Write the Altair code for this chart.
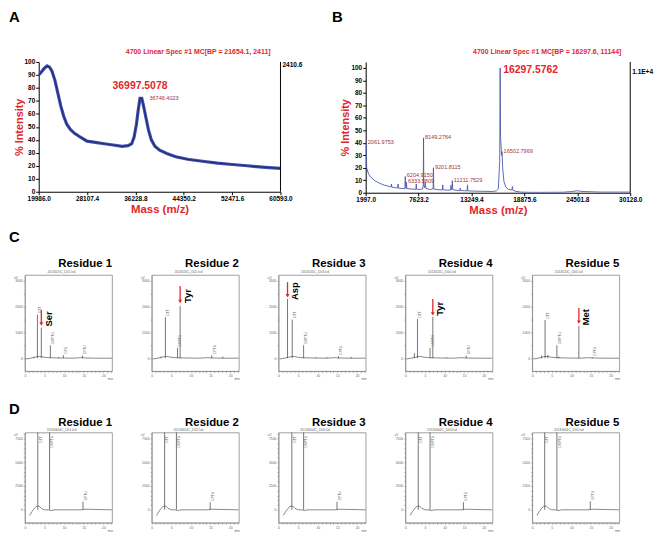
import altair as alt
import pandas as pd

FONT = "Liberation Sans"
RED = "#e1272c"
PEAKRED = "#a33434"
NAVY = "#1f2d80"
HALO = "#4452a6"
SPEC = "#4e5aa8"
TRACE = "#3a3a3a"
LGREY = "#666666"

# ---------------- Panel A : linear MALDI spectrum ----------------
A_TITLE = ["4700 Linear Spec #1 MC[BP = 21654.1, 2411]"]
A_mass = [19986, 20400, 20900, 21400, 21800, 22200, 22700, 23200, 23700, 24200,
          24700, 25300, 26000, 27000, 28100, 29500, 31000, 32500, 34000, 35000,
          35600, 36000, 36400, 36700, 37000, 37300, 37600, 38000, 38400, 38900,
          39500, 40300, 41500, 43000, 45000, 47500, 50000, 52500, 55000, 57500, 60593]
A_int = [90, 92, 95, 97, 96, 93, 86, 76, 66, 58,
         52, 48, 45, 42, 39, 38, 37, 36, 35, 35.5,
         37, 42, 52, 63, 72, 72, 66, 57, 48, 40,
         35, 32, 29.5, 27, 25, 23.5, 22, 21, 20, 19, 18]
A_xticks = [19986.0, 28107.4, 36228.8, 44350.2, 52471.6, 60593.0]
Y_PCT_TICKS = [0, 10, 20, 30, 40, 50, 60, 70, 80, 90, 100]
A_big_mass = [36997.5078]
A_big_int = [73]
A_big_text = ["36997.5078"]
A_small_mass = [36746.4023]
A_small_int = [72]
A_small_text = ["36746.4023"]
A_scale_text = ["2410.6"]

# ---------------- Panel B ----------------
B_TITLE = ["4700 Linear Spec #1 MC[BP = 16297.6, 11144]"]
B_mass = [1997, 2030, 2061.98, 2100, 2300, 2600, 3000, 3500, 4000, 4500,
          4700, 4739, 4780, 5000, 5400, 5443, 5490, 5900, 6170, 6204.9,
          6260, 6300, 6333.6, 6370, 6800, 7340, 7376, 7410, 7800, 8050,
          8120, 8149.3, 8180, 8280, 8325, 8400, 8800, 9170, 9201.8, 9240,
          9700, 10150, 10189, 10230, 10700, 11030, 11068, 11110, 11180, 11211.8,
          11250, 11700, 12020, 12053, 12090, 12500, 12790, 12826, 12860, 13500,
          14500, 15500, 15900, 16100, 16250, 16297.6, 16340, 16450, 16502.8, 16560,
          16700, 16900, 17200, 17550, 17600, 17650, 17900, 18500, 19500, 21000,
          23000, 24000, 24500, 25000, 27000, 30128]
B_int = [22, 30, 40, 20, 15, 12, 9.5, 7.5, 6, 5,
         4.6, 7, 4.5, 4.2, 3.8, 7, 3.7, 3.4, 3.3, 13,
         4, 3.5, 8.4, 3.3, 3, 2.8, 7, 2.8, 2.7, 3,
         6, 44, 6, 4, 8, 3.5, 2.6, 3, 20, 3,
         2.4, 2.3, 6.3, 2.3, 2.1, 2.1, 6, 2.5, 3, 9.7,
         2.5, 1.9, 1.8, 3.7, 1.8, 1.6, 1.5, 6.3, 1.5, 1.3,
         1.1, 1.0, 1.5, 3, 25, 100, 45, 30, 33, 20,
         9, 4.5, 2.6, 2.2, 5, 2, 1.2, 0.5, 0.3, 0.3,
         0.4, 1, 1.6, 1, 0.5, 0.5]
B_xticks = [1997.0, 7623.2, 13249.4, 18875.6, 24501.8, 30128.0]
B_big_mass = [16297.5762]
B_big_int = [100]
B_big_text = ["16297.5762"]
B_lab_mass = [2061.9753, 6204.9150, 6333.5809, 8149.2764, 9201.8115, 11211.7529, 16502.7969]
B_lab_int = [40, 13, 8.4, 44, 20, 9.7, 33]
B_lab_text = ["2061.9753", "6204.9150", "6333.5809", "8149.2764", "9201.8115", "11211.7529", "16502.7969"]
B_scale_text = ["1.1E+4"]

# ---------------- Panels C and D : PTH chromatograms ----------------
RES_TITLES = ["Residue 1", "Residue 2", "Residue 3", "Residue 4", "Residue 5"]
C_files = ["2013020C_D01.lcd", "2013020C_D02.lcd", "2013020C_D03.lcd", "2013020C_D04.lcd", "2013020C_D05.lcd"]
C_peak_t = [[2.3, 3.2, 4.2, 6.5, 8.6, 9.8, 14.7],
            [2.4, 3.5, 6.6, 7.25, 15.3, 18.1],
            [2.3, 3.5, 6.4, 9.5, 12.3, 15.3, 18.5],
            [2.3, 3.1, 6.3, 7.0, 10.5, 15.5],
            [2.4, 3.3, 4.0, 6.3, 6.8, 11.9, 15.3]]
C_peak_h = [[60, 1690, 1190, 500, 40, 120, 100],
            [60, 1590, 400, 2030, 110, 60],
            [2300, 1500, 500, 30, 40, 80, 50],
            [200, 1520, 400, 1600, 30, 100],
            [100, 1480, 120, 500, 60, 1250, 40]]
C_peak_lab = [["", "DTT", "", "DMPTU", "", "DPU", "DPTU"],
              ["", "DTT", "DMPTU", "", "DPTU", ""],
              ["", "DTT", "DMPTU", "", "", "DPTU", ""],
              ["", "DTT", "DMPTU", "", "", "DPTU"],
              ["", "DTT", "", "DMPTU", "", "", "DPTU"]]
C_base_t = [0.3, 1.5, 2.5, 3.0, 3.8, 4.8, 6.0, 8.0, 12.0, 14.3, 15.2, 18.0, 22.2]
C_base_v = [-30, 0, 30, 60, 70, 40, 20, 10, 0, 20, 10, 0, 0]
C_arrow_t = [4.2, 7.25, 2.3, 7.0, 11.9]
C_arrow_top = [1880, 2800, 2950, 2300, 1950]
C_arrow_tip = [1330, 2200, 2420, 1720, 1400]
C_aa = ["Ser", "Tyr", "Asp", "Tyr", "Met"]
C_aa_y = [1520, 2410, 2600, 1920, 1590]
C_yticks = [0, 500, 1000, 1500, 2000, 2500, 3000]

D_files = ["20130604C_D01.lcd", "20130604C_D02.lcd", "20130604C_D03.lcd", "20130604C_D04.lcd", "20130604C_D05.lcd"]
D_peak_t = [[3.3, 6.3, 14.8], [3.3, 6.3, 14.9], [3.4, 6.4, 14.9], [3.3, 6.3, 14.8], [3.2, 6.3, 14.8]]
D_peak_h = [[9500, 9500, 850], [9500, 9500, 800], [9500, 9500, 850], [9500, 9500, 800], [9500, 9500, 900]]
D_peak_lab = ["DTT", "DMPTU", "DPTU"]
D_lab_y = [[6900, 6400, 850], [6900, 6400, 800], [6900, 6400, 850], [6900, 6400, 800], [6900, 6400, 900]]
D_base_t = [1.2, 1.8, 2.4, 2.9, 3.6, 4.2, 5.0, 6.0, 6.6, 7.5, 14.4, 15.3, 22.2]
D_base_v = [-600, -200, 150, 350, 400, 150, 0, 0, -80, 0, 0, 60, 0]
D_yticks = [0, 500, 1000, 1500, 2000, 2500, 3000, 3500, 4000, 4500, 5000, 5500, 6000, 6500, 7000, 7500, 8000]
X_TICKS = list(range(0, 23))

one = pd.DataFrame({"k": [0]})


def label_text(txt, x, y, **kw):
    return alt.Chart(pd.DataFrame({"txt": txt})).mark_text(**kw).encode(
        x=alt.value(x), y=alt.value(y), text="txt:N")


def panel_spectrum(W, H, title, title_x, letter, letter_x, mass, inten, xdom, xticks, ydom,
                   line_layers, big, small, small_style, scale_text, scale_y):
    xs = alt.Scale(domain=xdom, nice=False, zero=False)
    ys = alt.Scale(domain=ydom, nice=False, zero=False)
    xax = alt.Axis(values=xticks, format=".1f", title="Mass (m/z)", titleColor=RED,
                   titleFontSize=11.5, titleFontWeight="bold", titlePadding=1,
                   labelFontSize=6.5, labelFontWeight="bold", labelColor="black",
                   labelFlush=False, labelOverlap=False, domainColor="black",
                   tickColor="black", tickSize=3, labelPadding=1)
    yax = alt.Axis(values=Y_PCT_TICKS, title="% Intensity", titleColor=RED, titleFontSize=11,
                   titleFontWeight="bold", titlePadding=0, labelFontSize=6.5,
                   labelFontWeight="bold", labelColor="black", domainColor="black",
                   tickColor="black", tickSize=3, labelPadding=1, labelOverlap=False)
    df = pd.DataFrame({"mass": mass, "inten": inten})
    X = alt.X("mass:Q", scale=xs, axis=xax)
    Y = alt.Y("inten:Q", scale=ys, axis=yax)
    layers = []
    for color, sw in line_layers:
        layers.append(alt.Chart(df).mark_line(color=color, strokeWidth=sw, clip=True).encode(x=X, y=Y))
    bdf = pd.DataFrame({"mass": big[0], "inten": big[1], "txt": big[2]})
    layers.append(alt.Chart(bdf).mark_text(**big[3]).encode(x=X, y=Y, text="txt:N"))
    sdf = pd.DataFrame({"mass": small[0], "inten": small[1], "txt": small[2]})
    layers.append(alt.Chart(sdf).mark_text(**small_style).encode(x=X, y=Y, text="txt:N"))
    layers.append(alt.Chart(one).mark_rule(color="black", strokeWidth=1).encode(
        x=alt.value(W), y=alt.value(0), y2=alt.value(H)))
    layers.append(label_text(scale_text, W + 2, scale_y, align="left", baseline="middle",
                             fontSize=6.6, fontWeight="bold", color="black"))
    layers.append(label_text(title, W + title_x, -8.5, align="right", baseline="alphabetic",
                             fontSize=7, fontWeight="bold", color=RED))
    layers.append(label_text([letter], letter_x, -40, align="left", baseline="alphabetic",
                             fontSize=15, fontWeight="bold", color="black"))
    return alt.layer(*layers).properties(width=W, height=H)


chartA = panel_spectrum(
    244, 131, A_TITLE, -10, "A", -30, A_mass, A_int, [19986.0, 60593.0], A_xticks, [0, 100],
    [(HALO, 3.2), (NAVY, 1.2)],
    (A_big_mass, A_big_int, A_big_text,
     dict(align="center", baseline="alphabetic", dy=-8, fontSize=10.5, fontWeight="bold", color=RED)),
    (A_small_mass, A_small_int, A_small_text),
    dict(align="left", baseline="middle", dx=11, fontSize=5.6, color=PEAKRED),
    A_scale_text, 3)

chartB = panel_spectrum(
    267, 132, B_TITLE, -9, "B", -34, B_mass, B_int, [1997.0, 30128.0], B_xticks, [0, 104.8],
    [(SPEC, 0.9)],
    (B_big_mass, B_big_int, B_big_text,
     dict(align="left", baseline="middle", dx=3, dy=2, fontSize=10.5, fontWeight="bold", color=RED)),
    (B_lab_mass, B_lab_int, B_lab_text),
    dict(align="left", baseline="middle", dx=1.5, dy=-1, fontSize=5.6, color=PEAKRED),
    B_scale_text, 10)


def chrom(W, H, ydom, yticks, ymajor, title, title_y, fname, pt, ph, plab, ply,
          bt, bv, arrow=None, letter=None, letter_y=0):
    xs = alt.Scale(domain=[0, 22.2], nice=False, zero=False)
    ys = alt.Scale(domain=ydom, nice=False, zero=False)
    common = dict(title=None, grid=False, labelFontSize=3.4, labelColor=LGREY, tickColor="#888",
                  domainColor="#888", tickSize=1.6, labelPadding=1, domainWidth=0.7,
                  tickWidth=0.6, labelOverlap=False, labelFlush=False)
    xax = alt.Axis(values=X_TICKS, labelExpr="datum.value % 5 === 0 ? datum.label : ''", **common)
    yax = alt.Axis(values=yticks, format="d",
                   labelExpr="datum.value %% %d === 0 ? datum.label : ''" % ymajor, **common)
    X = alt.X("t:Q", scale=xs, axis=xax)
    Y = alt.Y("v:Q", scale=ys, axis=yax)
    dfb = pd.DataFrame({"t": bt, "v": bv})
    dfp = pd.DataFrame({"t": pt, "v": ph, "lab": plab, "ly": ply})
    dfl = dfp[dfp["lab"] != ""]
    layers = [
        alt.Chart(dfb).mark_line(color=TRACE, strokeWidth=0.6, clip=True).encode(x=X, y=Y),
        alt.Chart(dfp).mark_rule(color=TRACE, strokeWidth=0.7, clip=True).encode(x=X, y=Y, y2=alt.datum(0)),
        alt.Chart(dfl).mark_text(angle=270, align="left", baseline="top", fontSize=3.3,
                                 color=LGREY, dx=1.5, dy=0.8).encode(
            x=X, y=alt.Y("ly:Q", scale=ys, axis=yax), text="lab:N"),
        label_text([fname], W * 0.42, -1, fontSize=3.3, color=LGREY, baseline="bottom", align="center"),
        label_text(["uV"], -7, 3, fontSize=3.3, color=LGREY, baseline="middle", align="right"),
        label_text(["min"], W + 1, H + 6, fontSize=3.3, color=LGREY, baseline="top", align="right"),
        label_text([title], W, title_y, fontSize=11.5, fontWeight="bold", color="black",
                   baseline="alphabetic", align="right"),
    ]
    if arrow is not None:
        at, atop, atip, aa, ay = arrow
        adf = pd.DataFrame({"t": [at], "v": [atop], "tip": [atip], "aa": [aa], "ay": [ay]})
        layers += [
            alt.Chart(adf).mark_rule(color=RED, strokeWidth=1.3).encode(
                x=X, y=Y, y2=alt.Y2("tip:Q")),
            alt.Chart(adf).mark_point(shape="triangle-down", filled=True, size=16, color=RED, opacity=1).encode(
                x=X, y=alt.Y("tip:Q", scale=ys, axis=yax)),
            alt.Chart(adf).mark_text(angle=270, align="center", baseline="top", fontSize=9.5,
                                     fontWeight="bold", color="black", dy=2.5).encode(
                x=X, y=alt.Y("ay:Q", scale=ys, axis=yax), text="aa:N"),
        ]
    if letter is not None:
        layers.append(label_text([letter], -16, letter_y, align="left", baseline="alphabetic",
                                 fontSize=15, fontWeight="bold", color="black"))
    return alt.layer(*layers).properties(
        width=W, height=H, view=alt.ViewBackground(stroke="#888", strokeWidth=0.8))


c_charts = []
for i in range(5):
    c_charts.append(chrom(
        88, 97, [-500, 3230], C_yticks, 1000, RES_TITLES[i], -8, C_files[i],
        C_peak_t[i], C_peak_h[i], C_peak_lab[i], C_peak_h[i], C_base_t, C_base_v,
        arrow=(C_arrow_t[i], C_arrow_top[i], C_arrow_tip[i], C_aa[i], C_aa_y[i]),
        letter="C" if i == 0 else None, letter_y=-33))

d_charts = []
for i in range(5):
    d_charts.append(chrom(
        88, 91, [-1350, 8120], D_yticks, 2500, RES_TITLES[i], -7, D_files[i],
        D_peak_t[i], D_peak_h[i], D_peak_lab, D_lab_y[i], D_base_t, D_base_v,
        letter="D" if i == 0 else None, letter_y=-19))

spacer = alt.Chart(one).mark_point(opacity=0).encode(
    x=alt.value(0), y=alt.value(0)).properties(width=1, height=1)

rowAB = alt.hconcat(spacer, alt.hconcat(chartA, chartB, spacing=86, bounds="flush"),
                    spacing=13, bounds="flush")
rowC = alt.hconcat(*c_charts, spacing=40, bounds="flush")
rowD = alt.hconcat(*d_charts, spacing=40, bounds="flush")
lower = alt.vconcat(rowC, rowD, spacing=20)

chart = alt.vconcat(rowAB, lower, spacing=14).properties(
    padding=0
).configure(font=FONT).configure_view(stroke=None).configure_axis(
    grid=False, labelFont=FONT, titleFont=FONT).configure_title(font=FONT)

chart.save("out.html", embed_options={"renderer": "svg", "actions": False})
